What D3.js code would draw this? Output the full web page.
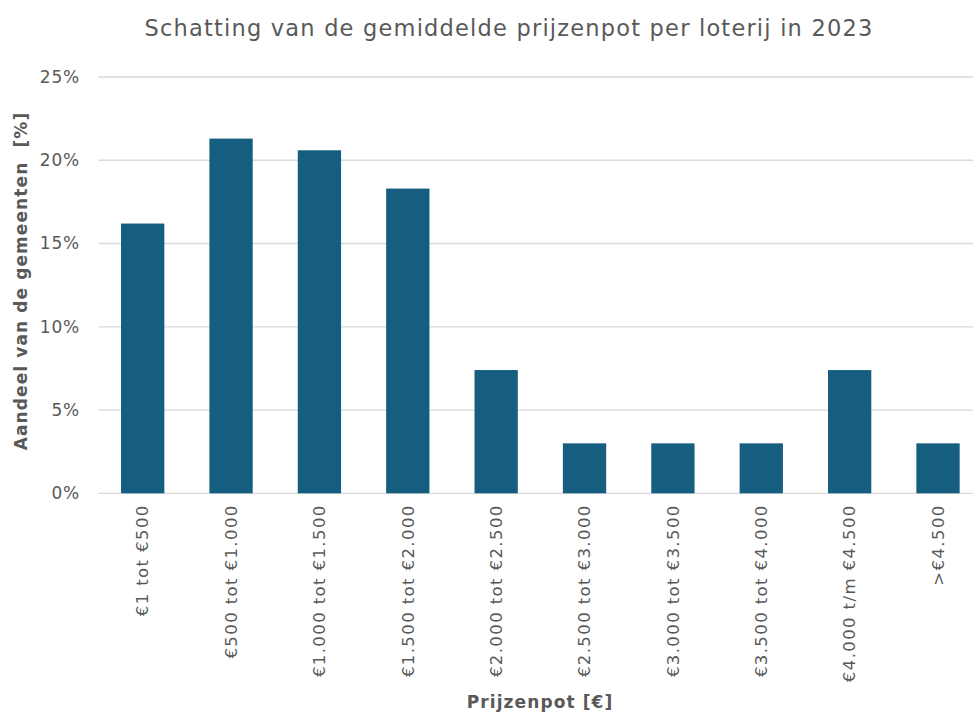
<!DOCTYPE html>
<html>
<head>
<meta charset="utf-8">
<script src="https://cdn.jsdelivr.net/npm/d3@7"></script>
<style>
  body { margin: 0; background: #fff; }
  text { font-family: "DejaVu Sans", Verdana, sans-serif; fill: #595959; white-space: pre; }
</style>
</head>
<body>
<svg id="chart"></svg>
<script>
const categories = ["€1 tot €500", "€500 tot €1.000", "€1.000 tot €1.500", "€1.500 tot €2.000",
  "€2.000 tot €2.500", "€2.500 tot €3.000", "€3.000 tot €3.500", "€3.500 tot €4.000",
  "€4.000 t/m €4.500", ">€4.500"];
const values = [16.2, 21.3, 20.6, 18.3, 7.4, 3.0, 3.0, 3.0, 7.4, 3.0];
const yTicks = [0, 5, 10, 15, 20, 25];

const width = 973, height = 713
const margin = { top: 77, left: 98.5 }
const plotBottom = 493.3

const svg = d3.select('#chart')
  .attr('width', width)
  .attr('height', height)

const x = d3.scaleBand()
  .domain(categories)
  .range([margin.left, margin.left + 88.37 * categories.length])
  .paddingInner(0.51)
  .paddingOuter(0.255)

const y = d3.scaleLinear()
  .domain([0, 25])
  .range([plotBottom, margin.top])

// gridlines
svg.append('g')
  .selectAll('line')
  .data(yTicks)
  .join('line')
    .attr('x1', margin.left)
    .attr('x2', width)
    .attr('y1', d => y(d))
    .attr('y2', d => y(d))
    .attr('stroke', '#d9d9d9')
    .attr('stroke-width', 1.3)

// y tick labels
const yAxis = d3.axisLeft(y)
  .tickValues(yTicks)
  .tickFormat(d => d + '%')
  .tickSize(0)
  .tickPadding(0)

svg.append('g')
  .attr('transform', 'translate(80, 0)')
  .call(yAxis)
  .call(g => g.select('.domain').remove())
  .selectAll('text')
    .style('font-size', '17px')
    .style('letter-spacing', '0.8px')
    .attr('fill', '#595959')

// bars
svg.append('g')
  .selectAll('rect')
  .data(values)
  .join('rect')
    .attr('x', (d, i) => x(categories[i]))
    .attr('y', d => y(d))
    .attr('width', x.bandwidth())
    .attr('height', d => y(0) - y(d))
    .attr('fill', '#165e80')

// x labels, rotated
const xAxis = d3.axisBottom(x).tickSize(0).tickPadding(0)

svg.append('g')
  .attr('transform', `translate(0, ${plotBottom})`)
  .call(xAxis)
  .call(g => g.select('.domain').remove())
  .selectAll('text')
    .attr('transform', 'rotate(-90)')
    .attr('x', -11)
    .attr('y', 0)
    .attr('dy', '0.35em')
    .style('text-anchor', 'end')
    .style('font-size', '16.5px')
    .style('letter-spacing', '1.4px')
    .attr('fill', '#595959')

// title
svg.append('text')
  .attr('x', 509)
  .attr('y', 36)
  .style('text-anchor', 'middle')
  .style('font-size', '22.5px')
  .style('letter-spacing', '1.2px')
  .text('Schatting van de gemiddelde prijzenpot per loterij in 2023')

// axis titles
svg.append('text')
  .attr('x', 540)
  .attr('y', 708)
  .style('text-anchor', 'middle')
  .style('font-size', '17px')
  .style('font-weight', 'bold')
  .style('letter-spacing', '1.1px')
  .text('Prijzenpot [€]')

svg.append('text')
  .attr('transform', 'rotate(-90)')
  .attr('x', -281)
  .attr('y', 27)
  .style('text-anchor', 'middle')
  .style('font-size', '17px')
  .style('font-weight', 'bold')
  .style('letter-spacing', '1.1px')
  .text('Aandeel van de gemeenten  [%]')
</script>
</body>
</html>
